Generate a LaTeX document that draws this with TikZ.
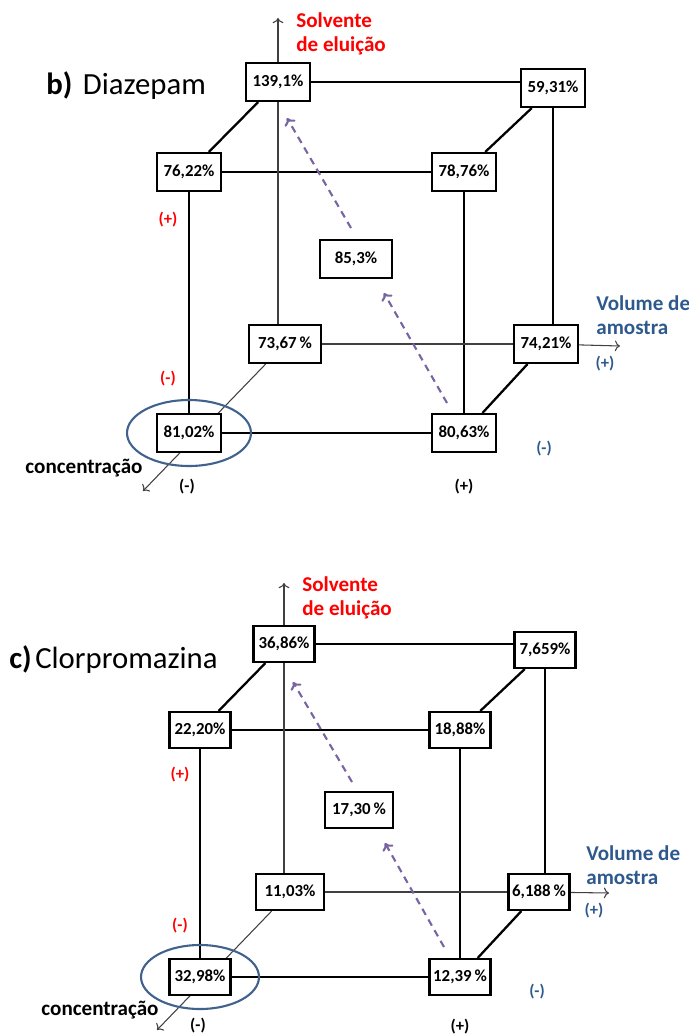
\documentclass[tikz,border=0pt]{standalone}
\usepackage{fontspec}
\setmainfont{Carlito}
\usetikzlibrary{calc}
\usetikzlibrary{arrows.meta}

\definecolor{solred}{RGB}{255,0,0}
\definecolor{volblue}{RGB}{46,89,140}
\definecolor{ringblue}{RGB}{64,98,140}
\definecolor{diagpurple}{RGB}{120,100,160}

\pgfdeclarelayer{back}
\pgfsetlayers{back,main}

\tikzset{
  valbox/.style={draw, fill=white, line width=1.2pt, minimum width=1.28cm, minimum height=0.76cm,
    inner sep=1pt, font=\fontsize{9.6}{11}\selectfont\bfseries},
  widebox/.style={valbox, minimum width=1.44cm},
  cbox/.style={valbox, minimum width=1.22cm, minimum height=0.72cm},
  cwidebox/.style={cbox, minimum width=1.35cm},
  edge/.style={line width=1.3pt},
  thinaxis/.style={line width=0.6pt, draw=black!75},
  diagarrow/.style={line width=1.2pt, draw=diagpurple, dash pattern=on 4pt off 3pt, -{To[length=4pt,width=7pt]}},
  axislabel/.style={font=\fontsize{12}{13.5}\selectfont\bfseries, align=left, anchor=west, inner sep=0pt},
  title/.style={font=\fontsize{17.5}{20}\selectfont, anchor=west, inner sep=0pt},
  sign/.style={font=\fontsize{9.5}{10}\selectfont\bfseries, inner sep=0pt},
  ring/.style={draw=ringblue, line width=1.2pt},
}

\begin{document}
\begin{tikzpicture}[x=0.02cm,y=-0.02cm]
\useasboundingbox (0,0) rectangle (689,1034);

%% b) Diazepam
\node[title] (dTitle) at (46,86) {\textbf{b)}\hspace{6pt}Diazepam};

\node[valbox] (dB1) at (278,82) {139,1\%};
\node[valbox] (dB2) at (553,88) {59,31\%};
\node[valbox] (dF1) at (189,172) {76,22\%};
\node[valbox] (dF2) at (464,172) {78,76\%};
\node[widebox] (dC) at (356,259) {85,3\%};
\node[widebox] (dB3) at (285,344) {73,67\,\%};
\node[valbox] (dB4) at (546,344) {74,21\%};
\node[valbox] (dF3) at (189,433) {81,02\%};
\node[valbox] (dF4) at (464,433) {80,63\%};

\coordinate (dUp) at (dB1.north |- 0,18);
\coordinate (dVol) at (620,346);
\coordinate (dConc) at (143,491);

\begin{pgfonlayer}{back}
\draw[edge] (dB1) -- (dB1 -| dB2.west);
\draw[edge] (dB1) -- (dF1);
\draw[edge] (dB2) -- (dF2);
\draw[edge] (dF1) -- (dF2);
\draw[edge] (dF1) -- (dF3);
\draw[edge] (dF2) -- (dF4);
\draw[edge] (dB2.south) -- (dB2.south |- dB4.north);
\draw[edge] (dF3) -- (dF4);
\draw[edge] (dF4) -- (dB4);
\draw[thinaxis] (dB1.south) -- (dB1.south |- dB3.north);
\draw[thinaxis,->] (dB1.north) -- (dUp);
\draw[thinaxis] (dB3) -- (dB4);
\draw[thinaxis,->] (dB4) -- (dVol);
\draw[thinaxis,->] (dB3) -- (dConc);
\end{pgfonlayer}

\draw[ring] (dF3) ellipse (1.24cm and 0.66cm);

\coordinate (dD1) at (447,403);
\coordinate (dD2) at (384,293);
\coordinate (dD3) at (351,228);
\coordinate (dD4) at (287,118);
\draw[diagarrow] (dD1) -- (dD2);
\draw[diagarrow] (dD3) -- (dD4);

\node[axislabel, text=solred] (dSolv) at (296,34) {Solvente\\de eluição};
\node[axislabel, text=volblue] (dVolLab) at (596,315) {Volume de\\amostra};
\node[axislabel, anchor=center] (dConcLab) at (84,468) {concentração};

\node[sign, text=solred] (dS1) at (168,220) {(+)};
\node[sign, text=solred] (dS2) at (168,379) {(-)};
\node[sign, text=volblue] (dS3) at (605,364) {(+)};
\node[sign, text=volblue] (dS4) at (544,449) {(-)};
\node[sign] (dS5) at (187,487) {(-)};
\node[sign] (dS6) at (464,487) {(+)};

%% c) Clorpromazina
\node[title] (cTitle) at (9,660) {\textbf{c)}\hspace{2pt}Clorpromazina};

\node[cbox] (cB1) at (284,644) {36,86\%};
\node[cbox] (cB2) at (545,650) {7,659\%};
\node[cbox] (cF1) at (200,730) {22,20\%};
\node[cbox] (cF2) at (460,730) {18,88\%};
\node[cwidebox] (cC) at (359,810) {17,30\,\%};
\node[cwidebox] (cB3) at (290,892) {11,03\%};
\node[cbox] (cB4) at (539,892) {6,188\,\%};
\node[cbox] (cF3) at (200,977) {32,98\%};
\node[cbox] (cF4) at (460,977) {12,39\,\%};

\coordinate (cUp) at (cB1.north |- 0,583);
\coordinate (cVol) at (609,893);
\coordinate (cConc) at (157,1030);

\begin{pgfonlayer}{back}
\draw[edge] (cB1) -- (cB1 -| cB2.west);
\draw[edge] (cB1) -- (cF1);
\draw[edge] (cB2) -- (cF2);
\draw[edge] (cF1) -- (cF2);
\draw[edge] (cF1) -- (cF3);
\draw[edge] (cF2) -- (cF4);
\draw[edge] (cB2.south) -- (cB2.south |- cB4.north);
\draw[edge] (cF3) -- (cF4);
\draw[edge] (cF4) -- (cB4);
\draw[thinaxis] (cB1.south) -- (cB1.south |- cB3.north);
\draw[thinaxis,->] (cB1.north) -- (cUp);
\draw[thinaxis] (cB3) -- (cB4);
\draw[thinaxis,->] (cB4) -- (cVol);
\draw[thinaxis,->] (cB3) -- (cConc);
\end{pgfonlayer}

\draw[ring] (cF3) ellipse (1.18cm and 0.64cm);

\coordinate (cD1) at (444,947);
\coordinate (cD2) at (385,843);
\coordinate (cD3) at (352,782);
\coordinate (cD4) at (293,682);
\draw[diagarrow] (cD1) -- (cD2);
\draw[diagarrow] (cD3) -- (cD4);

\node[axislabel, text=solred] (cSolv) at (302,598) {Solvente\\de eluição};
\node[axislabel, text=volblue] (cVolLab) at (586,865) {Volume de\\amostra};
\node[axislabel, anchor=center] (cConcLab) at (100,1010) {concentração};

\node[sign, text=solred] (cS1) at (180,775) {(+)};
\node[sign, text=solred] (cS2) at (180,926) {(-)};
\node[sign, text=volblue] (cS3) at (594,911) {(+)};
\node[sign, text=volblue] (cS4) at (537,992) {(-)};
\node[sign] (cS5) at (198,1026) {(-)};
\node[sign] (cS6) at (460,1027) {(+)};

\end{tikzpicture}
\end{document}
